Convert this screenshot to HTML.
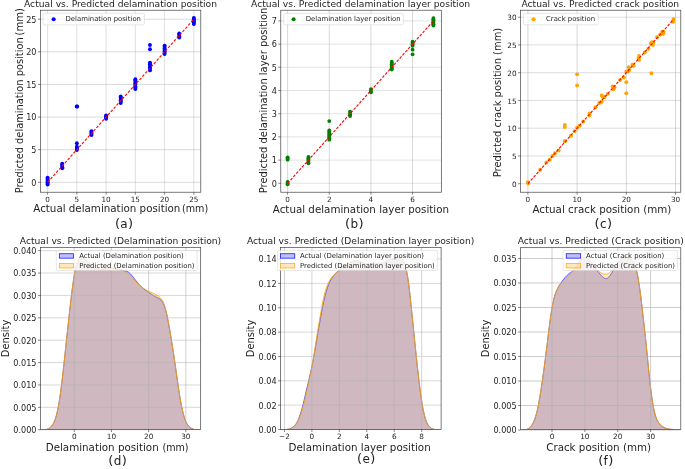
<!DOCTYPE html>
<html lang="en">
<head>
<meta charset="utf-8">
<title>Actual vs. Predicted</title>
<style>
html,body{margin:0;padding:0;background:#ffffff;}
body{width:685px;height:469px;overflow:hidden;}
svg{display:block;will-change:transform;}
text{font-family:"DejaVu Sans", "Liberation Sans", sans-serif;}
</style>
</head>
<body>
<svg width="685" height="469" viewBox="0 0 685 469" font-family='"DejaVu Sans", "Liberation Sans", sans-serif'>
<clipPath id="ca"><rect x="40.5" y="10.2" width="160.3" height="182"/></clipPath>
<rect x="40.5" y="10.2" width="160.3" height="182" fill="#ffffff"/>
<path d="M47.6 10.2V192.2M76.85 10.2V192.2M106.1 10.2V192.2M135.35 10.2V192.2M164.6 10.2V192.2M193.85 10.2V192.2" stroke="#b0b0b0" stroke-width="0.4" fill="none"/>
<path d="M40.5 182.3H200.8M40.5 149.68H200.8M40.5 117.06H200.8M40.5 84.44H200.8M40.5 51.82H200.8M40.5 19.2H200.8" stroke="#b0b0b0" stroke-width="0.48" fill="none"/>
<g fill="#0000ff" clip-path="url(#ca)">
<circle cx="47.6" cy="184.58" r="1.95"/>
<circle cx="47.6" cy="183.42" r="1.95"/>
<circle cx="47.6" cy="182.26" r="1.95"/>
<circle cx="47.6" cy="181.09" r="1.95"/>
<circle cx="47.6" cy="179.93" r="1.95"/>
<circle cx="47.6" cy="178.77" r="1.95"/>
<circle cx="47.6" cy="177.6" r="1.95"/>
<circle cx="62.23" cy="168.27" r="1.95"/>
<circle cx="62.23" cy="167.13" r="1.95"/>
<circle cx="62.23" cy="165.99" r="1.95"/>
<circle cx="62.23" cy="164.85" r="1.95"/>
<circle cx="62.23" cy="163.71" r="1.95"/>
<circle cx="76.85" cy="150.01" r="1.95"/>
<circle cx="76.85" cy="148.92" r="1.95"/>
<circle cx="76.85" cy="147.83" r="1.95"/>
<circle cx="76.85" cy="146.74" r="1.95"/>
<circle cx="76.85" cy="143.22" r="1.95"/>
<circle cx="76.67" cy="106.49" r="1.95"/>
<circle cx="77.2" cy="106.49" r="1.95"/>
<circle cx="91.47" cy="135" r="1.95"/>
<circle cx="91.47" cy="134.02" r="1.95"/>
<circle cx="91.47" cy="133.04" r="1.95"/>
<circle cx="91.47" cy="132.07" r="1.95"/>
<circle cx="91.47" cy="131.09" r="1.95"/>
<circle cx="106.1" cy="118.69" r="1.95"/>
<circle cx="106.1" cy="117.6" r="1.95"/>
<circle cx="106.1" cy="116.52" r="1.95"/>
<circle cx="106.1" cy="115.43" r="1.95"/>
<circle cx="120.72" cy="103.03" r="1.95"/>
<circle cx="120.72" cy="101.73" r="1.95"/>
<circle cx="120.72" cy="100.42" r="1.95"/>
<circle cx="120.72" cy="99.12" r="1.95"/>
<circle cx="120.72" cy="97.81" r="1.95"/>
<circle cx="120.72" cy="96.51" r="1.95"/>
<circle cx="135.35" cy="89.01" r="1.95"/>
<circle cx="135.35" cy="87.61" r="1.95"/>
<circle cx="135.35" cy="86.21" r="1.95"/>
<circle cx="135.35" cy="84.81" r="1.95"/>
<circle cx="135.35" cy="83.41" r="1.95"/>
<circle cx="135.35" cy="82.02" r="1.95"/>
<circle cx="135.35" cy="80.62" r="1.95"/>
<circle cx="135.35" cy="79.22" r="1.95"/>
<circle cx="149.97" cy="70.41" r="1.95"/>
<circle cx="149.97" cy="68.85" r="1.95"/>
<circle cx="149.97" cy="67.28" r="1.95"/>
<circle cx="149.97" cy="65.72" r="1.95"/>
<circle cx="149.97" cy="64.15" r="1.95"/>
<circle cx="149.97" cy="62.58" r="1.95"/>
<circle cx="149.97" cy="49.21" r="1.95"/>
<circle cx="149.97" cy="44.97" r="1.95"/>
<circle cx="164.6" cy="54.1" r="1.95"/>
<circle cx="164.6" cy="52.69" r="1.95"/>
<circle cx="164.6" cy="51.28" r="1.95"/>
<circle cx="164.6" cy="49.86" r="1.95"/>
<circle cx="164.6" cy="48.45" r="1.95"/>
<circle cx="164.6" cy="47.04" r="1.95"/>
<circle cx="164.6" cy="45.62" r="1.95"/>
<circle cx="179.22" cy="37.47" r="1.95"/>
<circle cx="179.22" cy="36.16" r="1.95"/>
<circle cx="179.22" cy="34.86" r="1.95"/>
<circle cx="179.22" cy="33.55" r="1.95"/>
<circle cx="193.85" cy="24.09" r="1.95"/>
<circle cx="193.85" cy="22.85" r="1.95"/>
<circle cx="193.85" cy="21.61" r="1.95"/>
<circle cx="193.85" cy="20.37" r="1.95"/>
<circle cx="193.85" cy="19.13" r="1.95"/>
<circle cx="193.85" cy="17.9" r="1.95"/>
</g>
<path d="M47.6 182.3L193.85 19.2" stroke="#ff0000" stroke-width="1.1" stroke-dasharray="2.8 1.5" fill="none"/>
<text x="47.6" y="201.89" font-size="7.25" text-anchor="middle" fill="#1e1e1e">0</text>
<text x="76.85" y="201.89" font-size="7.25" text-anchor="middle" fill="#1e1e1e">5</text>
<text x="106.1" y="201.89" font-size="7.25" text-anchor="middle" fill="#1e1e1e">10</text>
<text x="135.35" y="201.89" font-size="7.25" text-anchor="middle" fill="#1e1e1e">15</text>
<text x="164.6" y="201.89" font-size="7.25" text-anchor="middle" fill="#1e1e1e">20</text>
<text x="193.85" y="201.89" font-size="7.25" text-anchor="middle" fill="#1e1e1e">25</text>
<text x="36.5" y="185.66" font-size="8.1" text-anchor="end" fill="#1e1e1e">0</text>
<text x="36.5" y="153.04" font-size="8.1" text-anchor="end" fill="#1e1e1e">5</text>
<text x="36.5" y="120.42" font-size="8.1" text-anchor="end" fill="#1e1e1e">10</text>
<text x="36.5" y="87.8" font-size="8.1" text-anchor="end" fill="#1e1e1e">15</text>
<text x="36.5" y="55.18" font-size="8.1" text-anchor="end" fill="#1e1e1e">20</text>
<text x="36.5" y="22.56" font-size="8.1" text-anchor="end" fill="#1e1e1e">25</text>
<path d="M47.6 192.2v2.5M76.85 192.2v2.5M106.1 192.2v2.5M135.35 192.2v2.5M164.6 192.2v2.5M193.85 192.2v2.5M40.5 182.3h-2.5M40.5 149.68h-2.5M40.5 117.06h-2.5M40.5 84.44h-2.5M40.5 51.82h-2.5M40.5 19.2h-2.5" stroke="#333333" stroke-width="0.6" fill="none"/>
<rect x="40.5" y="10.2" width="160.3" height="182" fill="none" stroke="#333333" stroke-width="0.64"/>
<clipPath id="cb"><rect x="280.8" y="10.2" width="160.5" height="182"/></clipPath>
<rect x="280.8" y="10.2" width="160.5" height="182" fill="#ffffff"/>
<path d="M287.6 10.2V192.2M329.26 10.2V192.2M370.92 10.2V192.2M412.58 10.2V192.2" stroke="#b0b0b0" stroke-width="0.5" fill="none"/>
<path d="M280.8 183.3H441.3M280.8 160.1H441.3M280.8 136.9H441.3M280.8 113.7H441.3M280.8 90.5H441.3M280.8 67.3H441.3M280.8 44.1H441.3M280.8 20.9H441.3" stroke="#b0b0b0" stroke-width="0.36" fill="none"/>
<g fill="#008000" clip-path="url(#cb)">
<circle cx="287.6" cy="184.23" r="1.92"/>
<circle cx="287.6" cy="183.07" r="1.92"/>
<circle cx="287.6" cy="181.91" r="1.92"/>
<circle cx="287.6" cy="159.64" r="1.92"/>
<circle cx="287.6" cy="158.48" r="1.92"/>
<circle cx="287.6" cy="157.32" r="1.92"/>
<circle cx="308.43" cy="163.35" r="1.92"/>
<circle cx="308.43" cy="162.05" r="1.92"/>
<circle cx="308.43" cy="160.75" r="1.92"/>
<circle cx="308.43" cy="159.45" r="1.92"/>
<circle cx="308.43" cy="158.15" r="1.92"/>
<circle cx="308.43" cy="156.85" r="1.92"/>
<circle cx="329.26" cy="139.68" r="1.92"/>
<circle cx="329.26" cy="138.36" r="1.92"/>
<circle cx="329.26" cy="137.03" r="1.92"/>
<circle cx="329.26" cy="135.71" r="1.92"/>
<circle cx="329.26" cy="134.38" r="1.92"/>
<circle cx="329.26" cy="133.06" r="1.92"/>
<circle cx="329.26" cy="131.73" r="1.92"/>
<circle cx="329.26" cy="130.4" r="1.92"/>
<circle cx="329.26" cy="121.12" r="1.92"/>
<circle cx="350.09" cy="116.02" r="1.92"/>
<circle cx="350.09" cy="114.55" r="1.92"/>
<circle cx="350.09" cy="113.08" r="1.92"/>
<circle cx="350.09" cy="111.61" r="1.92"/>
<circle cx="370.92" cy="92.36" r="1.92"/>
<circle cx="370.92" cy="90.73" r="1.92"/>
<circle cx="370.92" cy="89.11" r="1.92"/>
<circle cx="391.75" cy="69.62" r="1.92"/>
<circle cx="391.75" cy="68.31" r="1.92"/>
<circle cx="391.75" cy="66.99" r="1.92"/>
<circle cx="391.75" cy="65.68" r="1.92"/>
<circle cx="391.75" cy="64.36" r="1.92"/>
<circle cx="391.75" cy="63.05" r="1.92"/>
<circle cx="391.75" cy="61.73" r="1.92"/>
<circle cx="412.58" cy="45.72" r="1.92"/>
<circle cx="412.58" cy="44.33" r="1.92"/>
<circle cx="412.58" cy="42.94" r="1.92"/>
<circle cx="412.58" cy="41.55" r="1.92"/>
<circle cx="412.58" cy="49.67" r="1.92"/>
<circle cx="412.58" cy="54.31" r="1.92"/>
<circle cx="433.41" cy="25.54" r="1.92"/>
<circle cx="433.41" cy="24.3" r="1.92"/>
<circle cx="433.41" cy="23.07" r="1.92"/>
<circle cx="433.41" cy="21.83" r="1.92"/>
<circle cx="433.41" cy="20.59" r="1.92"/>
<circle cx="433.41" cy="19.35" r="1.92"/>
<circle cx="433.41" cy="18.12" r="1.92"/>
</g>
<path d="M287.6 183.3L433.41 20.9" stroke="#ff0000" stroke-width="1.1" stroke-dasharray="2.8 1.5" fill="none"/>
<text x="287.6" y="201.89" font-size="7.25" text-anchor="middle" fill="#1e1e1e">0</text>
<text x="329.26" y="201.89" font-size="7.25" text-anchor="middle" fill="#1e1e1e">2</text>
<text x="370.92" y="201.89" font-size="7.25" text-anchor="middle" fill="#1e1e1e">4</text>
<text x="412.58" y="201.89" font-size="7.25" text-anchor="middle" fill="#1e1e1e">6</text>
<text x="276.8" y="186.66" font-size="8.1" text-anchor="end" fill="#1e1e1e">0</text>
<text x="276.8" y="163.46" font-size="8.1" text-anchor="end" fill="#1e1e1e">1</text>
<text x="276.8" y="140.26" font-size="8.1" text-anchor="end" fill="#1e1e1e">2</text>
<text x="276.8" y="117.06" font-size="8.1" text-anchor="end" fill="#1e1e1e">3</text>
<text x="276.8" y="93.86" font-size="8.1" text-anchor="end" fill="#1e1e1e">4</text>
<text x="276.8" y="70.66" font-size="8.1" text-anchor="end" fill="#1e1e1e">5</text>
<text x="276.8" y="47.46" font-size="8.1" text-anchor="end" fill="#1e1e1e">6</text>
<text x="276.8" y="24.26" font-size="8.1" text-anchor="end" fill="#1e1e1e">7</text>
<path d="M287.6 192.2v2.5M329.26 192.2v2.5M370.92 192.2v2.5M412.58 192.2v2.5M280.8 183.3h-2.5M280.8 160.1h-2.5M280.8 136.9h-2.5M280.8 113.7h-2.5M280.8 90.5h-2.5M280.8 67.3h-2.5M280.8 44.1h-2.5M280.8 20.9h-2.5" stroke="#333333" stroke-width="0.6" fill="none"/>
<rect x="280.8" y="10.2" width="160.5" height="182" fill="none" stroke="#333333" stroke-width="0.64"/>
<clipPath id="cc"><rect x="520.6" y="10.2" width="160.2" height="182"/></clipPath>
<rect x="520.6" y="10.2" width="160.2" height="182" fill="#ffffff"/>
<path d="M527.9 10.2V192.2M577.1 10.2V192.2M626.3 10.2V192.2M675.5 10.2V192.2" stroke="#b0b0b0" stroke-width="0.52" fill="none"/>
<path d="M520.6 183.7H680.8M520.6 155.95H680.8M520.6 128.2H680.8M520.6 100.45H680.8M520.6 72.7H680.8M520.6 44.95H680.8M520.6 17.2H680.8" stroke="#b0b0b0" stroke-width="0.44" fill="none"/>
<g fill="#ffa500" clip-path="url(#cc)">
<circle cx="527.9" cy="182.2" r="1.95"/>
<circle cx="528.39" cy="183.56" r="1.95"/>
<circle cx="540.2" cy="169.8" r="1.95"/>
<circle cx="546.35" cy="162.53" r="1.95"/>
<circle cx="549.79" cy="159.7" r="1.95"/>
<circle cx="552.5" cy="155.95" r="1.95"/>
<circle cx="554.96" cy="153.18" r="1.95"/>
<circle cx="558.65" cy="150.57" r="1.95"/>
<circle cx="564.8" cy="141.17" r="1.95"/>
<circle cx="565.05" cy="141.26" r="1.95"/>
<circle cx="570.95" cy="135.69" r="1.95"/>
<circle cx="574.64" cy="131.13" r="1.95"/>
<circle cx="577.1" cy="127.75" r="1.95"/>
<circle cx="579.56" cy="125.66" r="1.95"/>
<circle cx="583.25" cy="121.48" r="1.95"/>
<circle cx="589.4" cy="115.62" r="1.95"/>
<circle cx="589.65" cy="113.56" r="1.95"/>
<circle cx="595.55" cy="107.28" r="1.95"/>
<circle cx="599.24" cy="102.98" r="1.95"/>
<circle cx="601.7" cy="101.81" r="1.95"/>
<circle cx="603.18" cy="97.32" r="1.95"/>
<circle cx="604.65" cy="96.98" r="1.95"/>
<circle cx="607.85" cy="93.86" r="1.95"/>
<circle cx="612.52" cy="86.44" r="1.95"/>
<circle cx="614" cy="86.62" r="1.95"/>
<circle cx="614.49" cy="87.31" r="1.95"/>
<circle cx="620.15" cy="80" r="1.95"/>
<circle cx="623.84" cy="77.51" r="1.95"/>
<circle cx="626.3" cy="71.77" r="1.95"/>
<circle cx="627.78" cy="71.4" r="1.95"/>
<circle cx="629.25" cy="70.03" r="1.95"/>
<circle cx="632.45" cy="64.81" r="1.95"/>
<circle cx="633.68" cy="65.84" r="1.95"/>
<circle cx="638.6" cy="58.35" r="1.95"/>
<circle cx="639.09" cy="60.1" r="1.95"/>
<circle cx="644.75" cy="52.48" r="1.95"/>
<circle cx="648.44" cy="48.79" r="1.95"/>
<circle cx="650.9" cy="43.65" r="1.95"/>
<circle cx="651.88" cy="42.27" r="1.95"/>
<circle cx="653.36" cy="42.47" r="1.95"/>
<circle cx="657.05" cy="37.27" r="1.95"/>
<circle cx="660.25" cy="34.56" r="1.95"/>
<circle cx="662.22" cy="31.68" r="1.95"/>
<circle cx="663.2" cy="31.74" r="1.95"/>
<circle cx="663.69" cy="32.04" r="1.95"/>
<circle cx="673.04" cy="21.58" r="1.95"/>
<circle cx="673.53" cy="19.08" r="1.95"/>
<circle cx="564.8" cy="127.09" r="1.95"/>
<circle cx="564.8" cy="124.87" r="1.95"/>
<circle cx="577.1" cy="74.36" r="1.95"/>
<circle cx="577.1" cy="85.46" r="1.95"/>
<circle cx="626.3" cy="82.13" r="1.95"/>
<circle cx="626.3" cy="93.23" r="1.95"/>
<circle cx="651.39" cy="73.25" r="1.95"/>
<circle cx="601.7" cy="95.45" r="1.95"/>
<circle cx="613.51" cy="89.35" r="1.95"/>
<circle cx="628.76" cy="67.15" r="1.95"/>
<circle cx="652.87" cy="44.95" r="1.95"/>
<circle cx="663.2" cy="33.85" r="1.95"/>
<circle cx="673.04" cy="21.64" r="1.95"/>
<circle cx="639.09" cy="56.05" r="1.95"/>
</g>
<path d="M527.9 183.7L673.53 19.42" stroke="#ff0000" stroke-width="1.1" stroke-dasharray="2.8 1.5" fill="none"/>
<text x="527.9" y="201.89" font-size="7.25" text-anchor="middle" fill="#1e1e1e">0</text>
<text x="577.1" y="201.89" font-size="7.25" text-anchor="middle" fill="#1e1e1e">10</text>
<text x="626.3" y="201.89" font-size="7.25" text-anchor="middle" fill="#1e1e1e">20</text>
<text x="675.5" y="201.89" font-size="7.25" text-anchor="middle" fill="#1e1e1e">30</text>
<text x="516.6" y="186.76" font-size="7.3" text-anchor="end" fill="#1e1e1e">0</text>
<text x="516.6" y="159.01" font-size="7.3" text-anchor="end" fill="#1e1e1e">5</text>
<text x="516.6" y="131.26" font-size="7.3" text-anchor="end" fill="#1e1e1e">10</text>
<text x="516.6" y="103.51" font-size="7.3" text-anchor="end" fill="#1e1e1e">15</text>
<text x="516.6" y="75.76" font-size="7.3" text-anchor="end" fill="#1e1e1e">20</text>
<text x="516.6" y="48.01" font-size="7.3" text-anchor="end" fill="#1e1e1e">25</text>
<text x="516.6" y="20.26" font-size="7.3" text-anchor="end" fill="#1e1e1e">30</text>
<path d="M527.9 192.2v2.5M577.1 192.2v2.5M626.3 192.2v2.5M675.5 192.2v2.5M520.6 183.7h-2.5M520.6 155.95h-2.5M520.6 128.2h-2.5M520.6 100.45h-2.5M520.6 72.7h-2.5M520.6 44.95h-2.5M520.6 17.2h-2.5" stroke="#333333" stroke-width="0.6" fill="none"/>
<rect x="520.6" y="10.2" width="160.2" height="182" fill="none" stroke="#333333" stroke-width="0.64"/>
<clipPath id="cd"><rect x="40.5" y="247.5" width="160.2" height="182.1"/></clipPath>
<rect x="40.5" y="247.5" width="160.2" height="182.1" fill="#ffffff"/>
<g clip-path="url(#cd)">
<path d="M47.04 429.2L47.71 429.01L48.38 428.75L49.05 428.4L49.72 427.95L50.39 427.4L51.06 426.74L51.73 425.96L52.4 425.04L53.07 423.97L53.74 422.72L54.41 421.26L55.08 419.55L55.74 417.56L56.41 415.25L57.08 412.58L57.75 409.54L58.42 406.1L59.09 402.26L59.76 398.02L60.43 393.38L61.1 388.38L61.77 383.03L62.44 377.39L63.11 371.52L63.78 365.47L64.44 359.3L65.11 353.06L65.78 346.78L66.45 340.5L67.12 334.23L67.79 327.99L68.46 321.8L69.13 315.67L69.8 309.65L70.47 303.76L71.14 298.05L71.81 292.56L72.48 287.36L73.15 282.5L73.81 278.04L74.48 274.02L75.15 270.49L75.82 267.44L76.49 264.86L77.16 262.74L77.83 261.02L78.5 259.67L79.17 258.66L79.84 257.96L80.51 257.54L81.18 257.37L81.85 257.42L82.51 257.65L83.18 258.01L83.85 258.49L84.52 259.03L85.19 259.62L85.86 260.23L86.53 260.84L87.2 261.45L87.87 262.05L88.54 262.63L89.21 263.2L89.88 263.75L90.55 264.29L91.22 264.8L91.88 265.3L92.55 265.77L93.22 266.22L93.89 266.65L94.56 267.05L95.23 267.44L95.9 267.8L96.57 268.13L97.24 268.42L97.91 268.67L98.58 268.88L99.25 269.03L99.92 269.14L100.58 269.2L101.25 269.22L101.92 269.2L102.59 269.15L103.26 269.09L103.93 269.01L104.6 268.93L105.27 268.85L105.94 268.77L106.61 268.69L107.28 268.62L107.95 268.56L108.62 268.5L109.29 268.46L109.95 268.42L110.62 268.41L111.29 268.41L111.96 268.42L112.63 268.46L113.3 268.5L113.97 268.57L114.64 268.64L115.31 268.73L115.98 268.83L116.65 268.95L117.32 269.07L117.99 269.2L118.65 269.34L119.32 269.49L119.99 269.64L120.66 269.78L121.33 269.93L122 270.07L122.67 270.21L123.34 270.35L124.01 270.5L124.68 270.65L125.35 270.81L126.02 271.01L126.69 271.25L127.36 271.54L128.02 271.89L128.69 272.33L129.36 272.85L130.03 273.45L130.7 274.12L131.37 274.86L132.04 275.65L132.71 276.47L133.38 277.32L134.05 278.18L134.72 279.04L135.39 279.89L136.06 280.73L136.72 281.56L137.39 282.37L138.06 283.16L138.73 283.93L139.4 284.67L140.07 285.39L140.74 286.07L141.41 286.72L142.08 287.34L142.75 287.92L143.42 288.48L144.09 289.02L144.76 289.53L145.43 290.02L146.09 290.5L146.76 290.96L147.43 291.42L148.1 291.88L148.77 292.34L149.44 292.8L150.11 293.26L150.78 293.72L151.45 294.18L152.12 294.63L152.79 295.08L153.46 295.51L154.13 295.93L154.79 296.32L155.46 296.69L156.13 297.05L156.8 297.38L157.47 297.72L158.14 298.06L158.81 298.42L159.48 298.82L160.15 299.3L160.82 299.87L161.49 300.57L162.16 301.44L162.83 302.52L163.5 303.83L164.16 305.41L164.83 307.3L165.5 309.5L166.17 312.02L166.84 314.87L167.51 318L168.18 321.4L168.85 325.02L169.52 328.81L170.19 332.73L170.86 336.75L171.53 340.84L172.2 344.99L172.86 349.2L173.53 353.5L174.2 357.91L174.87 362.46L175.54 367.15L176.21 371.94L176.88 376.77L177.55 381.57L178.22 386.24L178.89 390.72L179.56 394.96L180.23 398.94L180.9 402.63L181.57 406.06L182.23 409.2L182.9 412.08L183.57 414.67L184.24 416.99L184.91 419.02L185.58 420.78L186.25 422.29L186.92 423.57L187.59 424.66L188.26 425.58L188.93 426.36L189.6 427.02L190.27 427.59L190.93 428.06L191.6 428.45L192.27 428.77L192.94 429.01L193.61 429.19L193.61 429.5L47.04 429.5Z" fill="#0000ff" fill-opacity="0.25" stroke="none"/>
<path d="M47.04 429.2L47.71 429.01L48.38 428.75L49.05 428.4L49.72 427.95L50.39 427.4L51.06 426.74L51.73 425.96L52.4 425.04L53.07 423.97L53.74 422.72L54.41 421.26L55.08 419.55L55.74 417.56L56.41 415.25L57.08 412.58L57.75 409.54L58.42 406.1L59.09 402.26L59.76 398.02L60.43 393.38L61.1 388.38L61.77 383.03L62.44 377.39L63.11 371.52L63.78 365.47L64.44 359.3L65.11 353.06L65.78 346.78L66.45 340.5L67.12 334.23L67.79 327.99L68.46 321.8L69.13 315.67L69.8 309.65L70.47 303.76L71.14 298.05L71.81 292.56L72.48 287.36L73.15 282.5L73.81 278.04L74.48 274.02L75.15 270.49L75.82 267.44L76.49 264.86L77.16 262.74L77.83 261.02L78.5 259.67L79.17 258.66L79.84 257.96L80.51 257.54L81.18 257.37L81.85 257.42L82.51 257.65L83.18 258.01L83.85 258.49L84.52 259.03L85.19 259.62L85.86 260.23L86.53 260.84L87.2 261.45L87.87 262.05L88.54 262.63L89.21 263.2L89.88 263.75L90.55 264.29L91.22 264.8L91.88 265.3L92.55 265.77L93.22 266.22L93.89 266.65L94.56 267.05L95.23 267.44L95.9 267.8L96.57 268.13L97.24 268.42L97.91 268.67L98.58 268.88L99.25 269.03L99.92 269.14L100.58 269.2L101.25 269.22L101.92 269.2L102.59 269.15L103.26 269.09L103.93 269.01L104.6 268.93L105.27 268.85L105.94 268.77L106.61 268.69L107.28 268.62L107.95 268.56L108.62 268.5L109.29 268.46L109.95 268.42L110.62 268.41L111.29 268.41L111.96 268.42L112.63 268.46L113.3 268.5L113.97 268.57L114.64 268.64L115.31 268.73L115.98 268.83L116.65 268.95L117.32 269.07L117.99 269.2L118.65 269.34L119.32 269.49L119.99 269.64L120.66 269.78L121.33 269.93L122 270.07L122.67 270.21L123.34 270.35L124.01 270.5L124.68 270.65L125.35 270.81L126.02 271.01L126.69 271.25L127.36 271.54L128.02 271.89L128.69 272.33L129.36 272.85L130.03 273.45L130.7 274.12L131.37 274.86L132.04 275.65L132.71 276.47L133.38 277.32L134.05 278.18L134.72 279.04L135.39 279.89L136.06 280.73L136.72 281.56L137.39 282.37L138.06 283.16L138.73 283.93L139.4 284.67L140.07 285.39L140.74 286.07L141.41 286.72L142.08 287.34L142.75 287.92L143.42 288.48L144.09 289.02L144.76 289.53L145.43 290.02L146.09 290.5L146.76 290.96L147.43 291.42L148.1 291.88L148.77 292.34L149.44 292.8L150.11 293.26L150.78 293.72L151.45 294.18L152.12 294.63L152.79 295.08L153.46 295.51L154.13 295.93L154.79 296.32L155.46 296.69L156.13 297.05L156.8 297.38L157.47 297.72L158.14 298.06L158.81 298.42L159.48 298.82L160.15 299.3L160.82 299.87L161.49 300.57L162.16 301.44L162.83 302.52L163.5 303.83L164.16 305.41L164.83 307.3L165.5 309.5L166.17 312.02L166.84 314.87L167.51 318L168.18 321.4L168.85 325.02L169.52 328.81L170.19 332.73L170.86 336.75L171.53 340.84L172.2 344.99L172.86 349.2L173.53 353.5L174.2 357.91L174.87 362.46L175.54 367.15L176.21 371.94L176.88 376.77L177.55 381.57L178.22 386.24L178.89 390.72L179.56 394.96L180.23 398.94L180.9 402.63L181.57 406.06L182.23 409.2L182.9 412.08L183.57 414.67L184.24 416.99L184.91 419.02L185.58 420.78L186.25 422.29L186.92 423.57L187.59 424.66L188.26 425.58L188.93 426.36L189.6 427.02L190.27 427.59L190.93 428.06L191.6 428.45L192.27 428.77L192.94 429.01L193.61 429.19" fill="none" stroke="#0000ff" stroke-width="0.6" stroke-linejoin="round"/>
<path d="M47.04 429.2L47.71 429.01L48.38 428.75L49.05 428.4L49.72 427.95L50.39 427.4L51.06 426.74L51.73 425.96L52.4 425.04L53.07 423.97L53.74 422.72L54.41 421.26L55.08 419.55L55.74 417.56L56.41 415.25L57.08 412.58L57.75 409.54L58.42 406.1L59.09 402.26L59.76 398.02L60.43 393.38L61.1 388.38L61.77 383.03L62.44 377.39L63.11 371.52L63.78 365.47L64.44 359.3L65.11 353.06L65.78 346.78L66.45 340.5L67.12 334.23L67.79 327.99L68.46 321.8L69.13 315.67L69.8 309.65L70.47 303.76L71.14 298.05L71.81 292.56L72.48 287.36L73.15 282.5L73.81 278.04L74.48 274.02L75.15 270.49L75.82 267.44L76.49 264.86L77.16 262.74L77.83 261.02L78.5 259.67L79.17 258.66L79.84 257.96L80.51 257.54L81.18 257.37L81.85 257.42L82.51 257.65L83.18 258.01L83.85 258.49L84.52 259.03L85.19 259.62L85.86 260.23L86.53 260.84L87.2 261.45L87.87 262.05L88.54 262.63L89.21 263.2L89.88 263.75L90.55 264.29L91.22 264.8L91.88 265.3L92.55 265.77L93.22 266.22L93.89 266.65L94.56 267.05L95.23 267.44L95.9 267.8L96.57 268.13L97.24 268.42L97.91 268.67L98.58 268.88L99.25 269.03L99.92 269.14L100.58 269.2L101.25 269.22L101.92 269.2L102.59 269.15L103.26 269.09L103.93 269.01L104.6 268.93L105.27 268.85L105.94 268.77L106.61 268.69L107.28 268.62L107.95 268.56L108.62 268.5L109.29 268.46L109.95 268.42L110.62 268.41L111.29 268.41L111.96 268.42L112.63 268.46L113.3 268.51L113.97 268.57L114.64 268.65L115.31 268.74L115.98 268.84L116.65 268.96L117.32 269.09L117.99 269.23L118.65 269.39L119.32 269.55L119.99 269.73L120.66 269.91L121.33 270.1L122 270.3L122.67 270.51L123.34 270.73L124.01 270.98L124.68 271.24L125.35 271.54L126.02 271.87L126.69 272.26L127.36 272.7L128.02 273.21L128.69 273.78L129.36 274.42L130.03 275.12L130.7 275.87L131.37 276.65L132.04 277.44L132.71 278.24L133.38 279.03L134.05 279.8L134.72 280.54L135.39 281.26L136.06 281.95L136.72 282.63L137.39 283.29L138.06 283.93L138.73 284.55L139.4 285.16L140.07 285.75L140.74 286.32L141.41 286.86L142.08 287.39L142.75 287.88L143.42 288.35L144.09 288.79L144.76 289.21L145.43 289.6L146.09 289.96L146.76 290.31L147.43 290.65L148.1 290.97L148.77 291.28L149.44 291.59L150.11 291.89L150.78 292.2L151.45 292.51L152.12 292.83L152.79 293.15L153.46 293.47L154.13 293.79L154.79 294.12L155.46 294.46L156.13 294.8L156.8 295.16L157.47 295.54L158.14 295.95L158.81 296.4L159.48 296.92L160.15 297.53L160.82 298.24L161.49 299.1L162.16 300.12L162.83 301.34L163.5 302.8L164.16 304.53L164.83 306.54L165.5 308.86L166.17 311.5L166.84 314.43L167.51 317.65L168.18 321.12L168.85 324.8L169.52 328.64L170.19 332.6L170.86 336.65L171.53 340.76L172.2 344.93L172.86 349.16L173.53 353.47L174.2 357.89L174.87 362.45L175.54 367.14L176.21 371.94L176.88 376.77L177.55 381.57L178.22 386.24L178.89 390.72L179.56 394.96L180.23 398.94L180.9 402.63L181.57 406.06L182.23 409.2L182.9 412.08L183.57 414.67L184.24 416.99L184.91 419.02L185.58 420.78L186.25 422.29L186.92 423.57L187.59 424.66L188.26 425.58L188.93 426.36L189.6 427.02L190.27 427.59L190.93 428.06L191.6 428.45L192.27 428.77L192.94 429.01L193.61 429.19L193.61 429.5L47.04 429.5Z" fill="#ffa500" fill-opacity="0.25" stroke="none"/>
<path d="M47.04 429.2L47.71 429.01L48.38 428.75L49.05 428.4L49.72 427.95L50.39 427.4L51.06 426.74L51.73 425.96L52.4 425.04L53.07 423.97L53.74 422.72L54.41 421.26L55.08 419.55L55.74 417.56L56.41 415.25L57.08 412.58L57.75 409.54L58.42 406.1L59.09 402.26L59.76 398.02L60.43 393.38L61.1 388.38L61.77 383.03L62.44 377.39L63.11 371.52L63.78 365.47L64.44 359.3L65.11 353.06L65.78 346.78L66.45 340.5L67.12 334.23L67.79 327.99L68.46 321.8L69.13 315.67L69.8 309.65L70.47 303.76L71.14 298.05L71.81 292.56L72.48 287.36L73.15 282.5L73.81 278.04L74.48 274.02L75.15 270.49L75.82 267.44L76.49 264.86L77.16 262.74L77.83 261.02L78.5 259.67L79.17 258.66L79.84 257.96L80.51 257.54L81.18 257.37L81.85 257.42L82.51 257.65L83.18 258.01L83.85 258.49L84.52 259.03L85.19 259.62L85.86 260.23L86.53 260.84L87.2 261.45L87.87 262.05L88.54 262.63L89.21 263.2L89.88 263.75L90.55 264.29L91.22 264.8L91.88 265.3L92.55 265.77L93.22 266.22L93.89 266.65L94.56 267.05L95.23 267.44L95.9 267.8L96.57 268.13L97.24 268.42L97.91 268.67L98.58 268.88L99.25 269.03L99.92 269.14L100.58 269.2L101.25 269.22L101.92 269.2L102.59 269.15L103.26 269.09L103.93 269.01L104.6 268.93L105.27 268.85L105.94 268.77L106.61 268.69L107.28 268.62L107.95 268.56L108.62 268.5L109.29 268.46L109.95 268.42L110.62 268.41L111.29 268.41L111.96 268.42L112.63 268.46L113.3 268.51L113.97 268.57L114.64 268.65L115.31 268.74L115.98 268.84L116.65 268.96L117.32 269.09L117.99 269.23L118.65 269.39L119.32 269.55L119.99 269.73L120.66 269.91L121.33 270.1L122 270.3L122.67 270.51L123.34 270.73L124.01 270.98L124.68 271.24L125.35 271.54L126.02 271.87L126.69 272.26L127.36 272.7L128.02 273.21L128.69 273.78L129.36 274.42L130.03 275.12L130.7 275.87L131.37 276.65L132.04 277.44L132.71 278.24L133.38 279.03L134.05 279.8L134.72 280.54L135.39 281.26L136.06 281.95L136.72 282.63L137.39 283.29L138.06 283.93L138.73 284.55L139.4 285.16L140.07 285.75L140.74 286.32L141.41 286.86L142.08 287.39L142.75 287.88L143.42 288.35L144.09 288.79L144.76 289.21L145.43 289.6L146.09 289.96L146.76 290.31L147.43 290.65L148.1 290.97L148.77 291.28L149.44 291.59L150.11 291.89L150.78 292.2L151.45 292.51L152.12 292.83L152.79 293.15L153.46 293.47L154.13 293.79L154.79 294.12L155.46 294.46L156.13 294.8L156.8 295.16L157.47 295.54L158.14 295.95L158.81 296.4L159.48 296.92L160.15 297.53L160.82 298.24L161.49 299.1L162.16 300.12L162.83 301.34L163.5 302.8L164.16 304.53L164.83 306.54L165.5 308.86L166.17 311.5L166.84 314.43L167.51 317.65L168.18 321.12L168.85 324.8L169.52 328.64L170.19 332.6L170.86 336.65L171.53 340.76L172.2 344.93L172.86 349.16L173.53 353.47L174.2 357.89L174.87 362.45L175.54 367.14L176.21 371.94L176.88 376.77L177.55 381.57L178.22 386.24L178.89 390.72L179.56 394.96L180.23 398.94L180.9 402.63L181.57 406.06L182.23 409.2L182.9 412.08L183.57 414.67L184.24 416.99L184.91 419.02L185.58 420.78L186.25 422.29L186.92 423.57L187.59 424.66L188.26 425.58L188.93 426.36L189.6 427.02L190.27 427.59L190.93 428.06L191.6 428.45L192.27 428.77L192.94 429.01L193.61 429.19" fill="none" stroke="#ffa500" stroke-width="0.85" stroke-linejoin="round"/>
</g>
<path d="M74.25 247.5V429.6M111.45 247.5V429.6M148.65 247.5V429.6M185.85 247.5V429.6" stroke="#b0b0b0" stroke-width="0.6" fill="none"/>
<path d="M40.5 429.7H200.7M40.5 407.32H200.7M40.5 384.94H200.7M40.5 362.56H200.7M40.5 340.18H200.7M40.5 317.8H200.7M40.5 295.42H200.7M40.5 273.04H200.7M40.5 250.66H200.7" stroke="#b0b0b0" stroke-width="0.5" fill="none"/>
<text x="74.25" y="439.33" font-size="7.3" text-anchor="middle" fill="#1e1e1e">0</text>
<text x="111.45" y="439.33" font-size="7.3" text-anchor="middle" fill="#1e1e1e">10</text>
<text x="148.65" y="439.33" font-size="7.3" text-anchor="middle" fill="#1e1e1e">20</text>
<text x="185.85" y="439.33" font-size="7.3" text-anchor="middle" fill="#1e1e1e">30</text>
<text x="36.5" y="433.06" font-size="8.1" text-anchor="end" fill="#1e1e1e">0.000</text>
<text x="36.5" y="410.68" font-size="8.1" text-anchor="end" fill="#1e1e1e">0.005</text>
<text x="36.5" y="388.3" font-size="8.1" text-anchor="end" fill="#1e1e1e">0.010</text>
<text x="36.5" y="365.92" font-size="8.1" text-anchor="end" fill="#1e1e1e">0.015</text>
<text x="36.5" y="343.54" font-size="8.1" text-anchor="end" fill="#1e1e1e">0.020</text>
<text x="36.5" y="321.16" font-size="8.1" text-anchor="end" fill="#1e1e1e">0.025</text>
<text x="36.5" y="298.78" font-size="8.1" text-anchor="end" fill="#1e1e1e">0.030</text>
<text x="36.5" y="276.4" font-size="8.1" text-anchor="end" fill="#1e1e1e">0.035</text>
<text x="36.5" y="254.02" font-size="8.1" text-anchor="end" fill="#1e1e1e">0.040</text>
<path d="M74.25 429.6v2.5M111.45 429.6v2.5M148.65 429.6v2.5M185.85 429.6v2.5M40.5 429.7h-2.5M40.5 407.32h-2.5M40.5 384.94h-2.5M40.5 362.56h-2.5M40.5 340.18h-2.5M40.5 317.8h-2.5M40.5 295.42h-2.5M40.5 273.04h-2.5M40.5 250.66h-2.5" stroke="#333333" stroke-width="0.6" fill="none"/>
<rect x="40.5" y="247.5" width="160.2" height="182.1" fill="none" stroke="#333333" stroke-width="0.64"/>
<clipPath id="ce"><rect x="280.6" y="247.6" width="160.5" height="181.8"/></clipPath>
<rect x="280.6" y="247.6" width="160.5" height="181.8" fill="#ffffff"/>
<g clip-path="url(#ce)">
<path d="M286.52 429.43L287.19 429.38L287.86 429.29L288.54 429.17L289.21 429L289.89 428.79L290.56 428.52L291.23 428.21L291.91 427.84L292.58 427.42L293.25 426.93L293.93 426.37L294.6 425.72L295.27 424.95L295.95 424.04L296.62 422.98L297.29 421.74L297.97 420.33L298.64 418.75L299.31 417L299.99 415.09L300.66 413.01L301.33 410.77L302.01 408.38L302.68 405.84L303.35 403.18L304.03 400.41L304.7 397.59L305.38 394.72L306.05 391.85L306.72 388.99L307.4 386.14L308.07 383.28L308.74 380.42L309.42 377.53L310.09 374.59L310.76 371.59L311.44 368.48L312.11 365.25L312.78 361.86L313.46 358.3L314.13 354.58L314.8 350.74L315.48 346.81L316.15 342.86L316.82 338.93L317.5 335.03L318.17 331.17L318.84 327.35L319.52 323.56L320.19 319.81L320.86 316.11L321.54 312.48L322.21 308.97L322.89 305.59L323.56 302.38L324.23 299.35L324.91 296.53L325.58 293.92L326.25 291.52L326.93 289.32L327.6 287.32L328.27 285.49L328.95 283.83L329.62 282.31L330.29 280.93L330.97 279.67L331.64 278.53L332.31 277.49L332.99 276.55L333.66 275.68L334.33 274.88L335.01 274.13L335.68 273.43L336.35 272.75L337.03 272.1L337.7 271.47L338.38 270.85L339.05 270.25L339.72 269.67L340.4 269.1L341.07 268.55L341.74 268.01L342.42 267.48L343.09 266.97L343.76 266.48L344.44 265.99L345.11 265.52L345.78 265.06L346.46 264.61L347.13 264.18L347.8 263.76L348.48 263.36L349.15 262.98L349.82 262.62L350.5 262.28L351.17 261.96L351.84 261.66L352.52 261.39L353.19 261.15L353.87 260.95L354.54 260.8L355.21 260.7L355.89 260.67L356.56 260.69L357.23 260.77L357.91 260.9L358.58 261.07L359.25 261.28L359.93 261.52L360.6 261.77L361.27 262.04L361.95 262.31L362.62 262.57L363.29 262.83L363.97 263.06L364.64 263.27L365.31 263.45L365.99 263.59L366.66 263.71L367.33 263.78L368.01 263.84L368.68 263.86L369.35 263.87L370.03 263.87L370.7 263.86L371.38 263.84L372.05 263.82L372.72 263.8L373.4 263.77L374.07 263.74L374.74 263.7L375.42 263.67L376.09 263.63L376.76 263.58L377.44 263.54L378.11 263.48L378.78 263.42L379.46 263.35L380.13 263.27L380.8 263.16L381.48 263.03L382.15 262.88L382.82 262.69L383.5 262.48L384.17 262.24L384.84 261.98L385.52 261.7L386.19 261.4L386.87 261.1L387.54 260.79L388.21 260.48L388.89 260.18L389.56 259.88L390.23 259.59L390.91 259.31L391.58 259.03L392.25 258.75L392.93 258.48L393.6 258.22L394.27 257.97L394.95 257.74L395.62 257.53L396.29 257.37L396.97 257.25L397.64 257.19L398.31 257.2L398.99 257.29L399.66 257.47L400.33 257.75L401.01 258.15L401.68 258.7L402.35 259.42L403.03 260.37L403.7 261.6L404.38 263.14L405.05 265.06L405.72 267.41L406.4 270.25L407.07 273.61L407.74 277.56L408.42 282.12L409.09 287.26L409.76 292.94L410.44 299.04L411.11 305.45L411.78 312.05L412.46 318.72L413.13 325.41L413.8 332.08L414.48 338.72L415.15 345.34L415.82 351.91L416.5 358.4L417.17 364.76L417.84 370.95L418.52 376.91L419.19 382.62L419.87 388.05L420.54 393.17L421.21 397.94L421.89 402.34L422.56 406.34L423.23 409.93L423.91 413.12L424.58 415.89L425.25 418.28L425.93 420.32L426.6 422.03L427.27 423.47L427.95 424.67L428.62 425.68L429.29 426.53L429.97 427.23L430.64 427.82L431.31 428.3L431.99 428.68L432.66 428.97L433.33 429.18L434.01 429.32L434.01 429.5L286.52 429.5Z" fill="#0000ff" fill-opacity="0.25" stroke="none"/>
<path d="M286.52 429.43L287.19 429.38L287.86 429.29L288.54 429.17L289.21 429L289.89 428.79L290.56 428.52L291.23 428.21L291.91 427.84L292.58 427.42L293.25 426.93L293.93 426.37L294.6 425.72L295.27 424.95L295.95 424.04L296.62 422.98L297.29 421.74L297.97 420.33L298.64 418.75L299.31 417L299.99 415.09L300.66 413.01L301.33 410.77L302.01 408.38L302.68 405.84L303.35 403.18L304.03 400.41L304.7 397.59L305.38 394.72L306.05 391.85L306.72 388.99L307.4 386.14L308.07 383.28L308.74 380.42L309.42 377.53L310.09 374.59L310.76 371.59L311.44 368.48L312.11 365.25L312.78 361.86L313.46 358.3L314.13 354.58L314.8 350.74L315.48 346.81L316.15 342.86L316.82 338.93L317.5 335.03L318.17 331.17L318.84 327.35L319.52 323.56L320.19 319.81L320.86 316.11L321.54 312.48L322.21 308.97L322.89 305.59L323.56 302.38L324.23 299.35L324.91 296.53L325.58 293.92L326.25 291.52L326.93 289.32L327.6 287.32L328.27 285.49L328.95 283.83L329.62 282.31L330.29 280.93L330.97 279.67L331.64 278.53L332.31 277.49L332.99 276.55L333.66 275.68L334.33 274.88L335.01 274.13L335.68 273.43L336.35 272.75L337.03 272.1L337.7 271.47L338.38 270.85L339.05 270.25L339.72 269.67L340.4 269.1L341.07 268.55L341.74 268.01L342.42 267.48L343.09 266.97L343.76 266.48L344.44 265.99L345.11 265.52L345.78 265.06L346.46 264.61L347.13 264.18L347.8 263.76L348.48 263.36L349.15 262.98L349.82 262.62L350.5 262.28L351.17 261.96L351.84 261.66L352.52 261.39L353.19 261.15L353.87 260.95L354.54 260.8L355.21 260.7L355.89 260.67L356.56 260.69L357.23 260.77L357.91 260.9L358.58 261.07L359.25 261.28L359.93 261.52L360.6 261.77L361.27 262.04L361.95 262.31L362.62 262.57L363.29 262.83L363.97 263.06L364.64 263.27L365.31 263.45L365.99 263.59L366.66 263.71L367.33 263.78L368.01 263.84L368.68 263.86L369.35 263.87L370.03 263.87L370.7 263.86L371.38 263.84L372.05 263.82L372.72 263.8L373.4 263.77L374.07 263.74L374.74 263.7L375.42 263.67L376.09 263.63L376.76 263.58L377.44 263.54L378.11 263.48L378.78 263.42L379.46 263.35L380.13 263.27L380.8 263.16L381.48 263.03L382.15 262.88L382.82 262.69L383.5 262.48L384.17 262.24L384.84 261.98L385.52 261.7L386.19 261.4L386.87 261.1L387.54 260.79L388.21 260.48L388.89 260.18L389.56 259.88L390.23 259.59L390.91 259.31L391.58 259.03L392.25 258.75L392.93 258.48L393.6 258.22L394.27 257.97L394.95 257.74L395.62 257.53L396.29 257.37L396.97 257.25L397.64 257.19L398.31 257.2L398.99 257.29L399.66 257.47L400.33 257.75L401.01 258.15L401.68 258.7L402.35 259.42L403.03 260.37L403.7 261.6L404.38 263.14L405.05 265.06L405.72 267.41L406.4 270.25L407.07 273.61L407.74 277.56L408.42 282.12L409.09 287.26L409.76 292.94L410.44 299.04L411.11 305.45L411.78 312.05L412.46 318.72L413.13 325.41L413.8 332.08L414.48 338.72L415.15 345.34L415.82 351.91L416.5 358.4L417.17 364.76L417.84 370.95L418.52 376.91L419.19 382.62L419.87 388.05L420.54 393.17L421.21 397.94L421.89 402.34L422.56 406.34L423.23 409.93L423.91 413.12L424.58 415.89L425.25 418.28L425.93 420.32L426.6 422.03L427.27 423.47L427.95 424.67L428.62 425.68L429.29 426.53L429.97 427.23L430.64 427.82L431.31 428.3L431.99 428.68L432.66 428.97L433.33 429.18L434.01 429.32" fill="none" stroke="#0000ff" stroke-width="0.6" stroke-linejoin="round"/>
<path d="M286.52 429.43L287.19 429.38L287.86 429.29L288.54 429.17L289.21 429L289.89 428.79L290.56 428.53L291.23 428.21L291.91 427.85L292.58 427.43L293.25 426.96L293.93 426.42L294.6 425.79L295.27 425.06L295.95 424.2L296.62 423.21L297.29 422.07L297.97 420.79L298.64 419.36L299.31 417.8L299.99 416.1L300.66 414.26L301.33 412.29L302.01 410.16L302.68 407.87L303.35 405.44L304.03 402.86L304.7 400.17L305.38 397.37L306.05 394.49L306.72 391.54L307.4 388.52L308.07 385.45L308.74 382.31L309.42 379.11L310.09 375.84L310.76 372.48L311.44 369.02L312.11 365.43L312.78 361.69L313.46 357.78L314.13 353.72L314.8 349.53L315.48 345.26L316.15 340.96L316.82 336.68L317.5 332.44L318.17 328.25L318.84 324.12L319.52 320.04L320.19 316.04L320.86 312.13L321.54 308.35L322.21 304.74L322.89 301.33L323.56 298.15L324.23 295.22L324.91 292.55L325.58 290.14L326.25 287.99L326.93 286.08L327.6 284.38L328.27 282.87L328.95 281.52L329.62 280.31L330.29 279.22L330.97 278.23L331.64 277.34L332.31 276.52L332.99 275.77L333.66 275.06L334.33 274.4L335.01 273.76L335.68 273.14L336.35 272.54L337.03 271.94L337.7 271.35L338.38 270.77L339.05 270.2L339.72 269.63L340.4 269.07L341.07 268.53L341.74 268L342.42 267.48L343.09 266.97L343.76 266.47L344.44 265.99L345.11 265.52L345.78 265.06L346.46 264.61L347.13 264.18L347.8 263.76L348.48 263.36L349.15 262.98L349.82 262.62L350.5 262.28L351.17 261.96L351.84 261.66L352.52 261.39L353.19 261.15L353.87 260.95L354.54 260.8L355.21 260.7L355.89 260.67L356.56 260.69L357.23 260.77L357.91 260.9L358.58 261.07L359.25 261.28L359.93 261.52L360.6 261.77L361.27 262.04L361.95 262.31L362.62 262.57L363.29 262.83L363.97 263.06L364.64 263.27L365.31 263.45L365.99 263.59L366.66 263.71L367.33 263.78L368.01 263.84L368.68 263.86L369.35 263.87L370.03 263.87L370.7 263.86L371.38 263.84L372.05 263.82L372.72 263.8L373.4 263.77L374.07 263.74L374.74 263.7L375.42 263.67L376.09 263.63L376.76 263.58L377.44 263.54L378.11 263.48L378.78 263.42L379.46 263.35L380.13 263.27L380.8 263.16L381.48 263.03L382.15 262.88L382.82 262.69L383.5 262.48L384.17 262.24L384.84 261.98L385.52 261.7L386.19 261.4L386.87 261.1L387.54 260.79L388.21 260.48L388.89 260.18L389.56 259.88L390.23 259.59L390.91 259.31L391.58 259.03L392.25 258.75L392.93 258.48L393.6 258.22L394.27 257.97L394.95 257.74L395.62 257.53L396.29 257.37L396.97 257.25L397.64 257.19L398.31 257.2L398.99 257.29L399.66 257.47L400.33 257.75L401.01 258.15L401.68 258.7L402.35 259.42L403.03 260.37L403.7 261.6L404.38 263.14L405.05 265.06L405.72 267.41L406.4 270.25L407.07 273.61L407.74 277.56L408.42 282.12L409.09 287.26L409.76 292.94L410.44 299.04L411.11 305.45L411.78 312.05L412.46 318.72L413.13 325.41L413.8 332.08L414.48 338.72L415.15 345.34L415.82 351.91L416.5 358.4L417.17 364.76L417.84 370.95L418.52 376.91L419.19 382.62L419.87 388.05L420.54 393.17L421.21 397.94L421.89 402.34L422.56 406.34L423.23 409.93L423.91 413.12L424.58 415.89L425.25 418.28L425.93 420.32L426.6 422.03L427.27 423.47L427.95 424.67L428.62 425.68L429.29 426.53L429.97 427.23L430.64 427.82L431.31 428.3L431.99 428.68L432.66 428.97L433.33 429.18L434.01 429.32L434.01 429.5L286.52 429.5Z" fill="#ffa500" fill-opacity="0.25" stroke="none"/>
<path d="M286.52 429.43L287.19 429.38L287.86 429.29L288.54 429.17L289.21 429L289.89 428.79L290.56 428.53L291.23 428.21L291.91 427.85L292.58 427.43L293.25 426.96L293.93 426.42L294.6 425.79L295.27 425.06L295.95 424.2L296.62 423.21L297.29 422.07L297.97 420.79L298.64 419.36L299.31 417.8L299.99 416.1L300.66 414.26L301.33 412.29L302.01 410.16L302.68 407.87L303.35 405.44L304.03 402.86L304.7 400.17L305.38 397.37L306.05 394.49L306.72 391.54L307.4 388.52L308.07 385.45L308.74 382.31L309.42 379.11L310.09 375.84L310.76 372.48L311.44 369.02L312.11 365.43L312.78 361.69L313.46 357.78L314.13 353.72L314.8 349.53L315.48 345.26L316.15 340.96L316.82 336.68L317.5 332.44L318.17 328.25L318.84 324.12L319.52 320.04L320.19 316.04L320.86 312.13L321.54 308.35L322.21 304.74L322.89 301.33L323.56 298.15L324.23 295.22L324.91 292.55L325.58 290.14L326.25 287.99L326.93 286.08L327.6 284.38L328.27 282.87L328.95 281.52L329.62 280.31L330.29 279.22L330.97 278.23L331.64 277.34L332.31 276.52L332.99 275.77L333.66 275.06L334.33 274.4L335.01 273.76L335.68 273.14L336.35 272.54L337.03 271.94L337.7 271.35L338.38 270.77L339.05 270.2L339.72 269.63L340.4 269.07L341.07 268.53L341.74 268L342.42 267.48L343.09 266.97L343.76 266.47L344.44 265.99L345.11 265.52L345.78 265.06L346.46 264.61L347.13 264.18L347.8 263.76L348.48 263.36L349.15 262.98L349.82 262.62L350.5 262.28L351.17 261.96L351.84 261.66L352.52 261.39L353.19 261.15L353.87 260.95L354.54 260.8L355.21 260.7L355.89 260.67L356.56 260.69L357.23 260.77L357.91 260.9L358.58 261.07L359.25 261.28L359.93 261.52L360.6 261.77L361.27 262.04L361.95 262.31L362.62 262.57L363.29 262.83L363.97 263.06L364.64 263.27L365.31 263.45L365.99 263.59L366.66 263.71L367.33 263.78L368.01 263.84L368.68 263.86L369.35 263.87L370.03 263.87L370.7 263.86L371.38 263.84L372.05 263.82L372.72 263.8L373.4 263.77L374.07 263.74L374.74 263.7L375.42 263.67L376.09 263.63L376.76 263.58L377.44 263.54L378.11 263.48L378.78 263.42L379.46 263.35L380.13 263.27L380.8 263.16L381.48 263.03L382.15 262.88L382.82 262.69L383.5 262.48L384.17 262.24L384.84 261.98L385.52 261.7L386.19 261.4L386.87 261.1L387.54 260.79L388.21 260.48L388.89 260.18L389.56 259.88L390.23 259.59L390.91 259.31L391.58 259.03L392.25 258.75L392.93 258.48L393.6 258.22L394.27 257.97L394.95 257.74L395.62 257.53L396.29 257.37L396.97 257.25L397.64 257.19L398.31 257.2L398.99 257.29L399.66 257.47L400.33 257.75L401.01 258.15L401.68 258.7L402.35 259.42L403.03 260.37L403.7 261.6L404.38 263.14L405.05 265.06L405.72 267.41L406.4 270.25L407.07 273.61L407.74 277.56L408.42 282.12L409.09 287.26L409.76 292.94L410.44 299.04L411.11 305.45L411.78 312.05L412.46 318.72L413.13 325.41L413.8 332.08L414.48 338.72L415.15 345.34L415.82 351.91L416.5 358.4L417.17 364.76L417.84 370.95L418.52 376.91L419.19 382.62L419.87 388.05L420.54 393.17L421.21 397.94L421.89 402.34L422.56 406.34L423.23 409.93L423.91 413.12L424.58 415.89L425.25 418.28L425.93 420.32L426.6 422.03L427.27 423.47L427.95 424.67L428.62 425.68L429.29 426.53L429.97 427.23L430.64 427.82L431.31 428.3L431.99 428.68L432.66 428.97L433.33 429.18L434.01 429.32" fill="none" stroke="#ffa500" stroke-width="0.85" stroke-linejoin="round"/>
</g>
<path d="M284.46 247.6V429.4M311.9 247.6V429.4M339.34 247.6V429.4M366.78 247.6V429.4M394.22 247.6V429.4M421.66 247.6V429.4" stroke="#b0b0b0" stroke-width="0.55" fill="none"/>
<path d="M280.6 429.5H441.1M280.6 405.15H441.1M280.6 380.8H441.1M280.6 356.45H441.1M280.6 332.1H441.1M280.6 307.75H441.1M280.6 283.4H441.1M280.6 259.05H441.1" stroke="#b0b0b0" stroke-width="0.5" fill="none"/>
<text x="284.46" y="439.13" font-size="7.3" text-anchor="middle" fill="#1e1e1e">−2</text>
<text x="311.9" y="439.13" font-size="7.3" text-anchor="middle" fill="#1e1e1e">0</text>
<text x="339.34" y="439.13" font-size="7.3" text-anchor="middle" fill="#1e1e1e">2</text>
<text x="366.78" y="439.13" font-size="7.3" text-anchor="middle" fill="#1e1e1e">4</text>
<text x="394.22" y="439.13" font-size="7.3" text-anchor="middle" fill="#1e1e1e">6</text>
<text x="421.66" y="439.13" font-size="7.3" text-anchor="middle" fill="#1e1e1e">8</text>
<text x="276.6" y="432.86" font-size="8.1" text-anchor="end" fill="#1e1e1e">0.00</text>
<text x="276.6" y="408.51" font-size="8.1" text-anchor="end" fill="#1e1e1e">0.02</text>
<text x="276.6" y="384.16" font-size="8.1" text-anchor="end" fill="#1e1e1e">0.04</text>
<text x="276.6" y="359.81" font-size="8.1" text-anchor="end" fill="#1e1e1e">0.06</text>
<text x="276.6" y="335.46" font-size="8.1" text-anchor="end" fill="#1e1e1e">0.08</text>
<text x="276.6" y="311.11" font-size="8.1" text-anchor="end" fill="#1e1e1e">0.10</text>
<text x="276.6" y="286.76" font-size="8.1" text-anchor="end" fill="#1e1e1e">0.12</text>
<text x="276.6" y="262.41" font-size="8.1" text-anchor="end" fill="#1e1e1e">0.14</text>
<path d="M284.46 429.4v2.5M311.9 429.4v2.5M339.34 429.4v2.5M366.78 429.4v2.5M394.22 429.4v2.5M421.66 429.4v2.5M280.6 429.5h-2.5M280.6 405.15h-2.5M280.6 380.8h-2.5M280.6 356.45h-2.5M280.6 332.1h-2.5M280.6 307.75h-2.5M280.6 283.4h-2.5M280.6 259.05h-2.5" stroke="#333333" stroke-width="0.6" fill="none"/>
<rect x="280.6" y="247.6" width="160.5" height="181.8" fill="none" stroke="#333333" stroke-width="0.64"/>
<clipPath id="cf"><rect x="520.6" y="247.7" width="160.2" height="181.8"/></clipPath>
<rect x="520.6" y="247.7" width="160.2" height="181.8" fill="#ffffff"/>
<g clip-path="url(#cf)">
<path d="M526.97 429.24L527.58 429.05L528.2 428.79L528.81 428.44L529.42 427.99L530.03 427.43L530.64 426.77L531.26 426.01L531.87 425.13L532.48 424.13L533.09 423L533.7 421.71L534.32 420.25L534.93 418.61L535.54 416.77L536.15 414.71L536.77 412.42L537.38 409.88L537.99 407.07L538.6 404L539.21 400.67L539.83 397.12L540.44 393.37L541.05 389.46L541.66 385.42L542.27 381.25L542.89 376.96L543.5 372.53L544.11 367.99L544.72 363.35L545.33 358.62L545.95 353.82L546.56 348.96L547.17 344.04L547.78 339.07L548.39 334.06L549.01 329.08L549.62 324.21L550.23 319.54L550.84 315.17L551.46 311.15L552.07 307.5L552.68 304.24L553.29 301.34L553.9 298.77L554.52 296.5L555.13 294.49L555.74 292.72L556.35 291.14L556.96 289.72L557.58 288.43L558.19 287.26L558.8 286.16L559.41 285.13L560.02 284.16L560.64 283.23L561.25 282.33L561.86 281.47L562.47 280.63L563.08 279.83L563.7 279.05L564.31 278.3L564.92 277.59L565.53 276.9L566.15 276.25L566.76 275.64L567.37 275.07L567.98 274.53L568.59 274.04L569.21 273.57L569.82 273.12L570.43 272.69L571.04 272.26L571.65 271.81L572.27 271.33L572.88 270.81L573.49 270.23L574.1 269.58L574.71 268.85L575.33 268.05L575.94 267.18L576.55 266.26L577.16 265.3L577.77 264.34L578.39 263.39L579 262.48L579.61 261.62L580.22 260.82L580.84 260.09L581.45 259.43L582.06 258.84L582.67 258.34L583.28 257.93L583.9 257.63L584.51 257.45L585.12 257.4L585.73 257.48L586.34 257.68L586.96 257.99L587.57 258.41L588.18 258.91L588.79 259.47L589.4 260.09L590.02 260.76L590.63 261.46L591.24 262.21L591.85 263L592.46 263.83L593.08 264.7L593.69 265.59L594.3 266.51L594.91 267.43L595.53 268.34L596.14 269.22L596.75 270.07L597.36 270.88L597.97 271.66L598.59 272.41L599.2 273.13L599.81 273.84L600.42 274.54L601.03 275.22L601.65 275.87L602.26 276.5L602.87 277.07L603.48 277.58L604.09 278.01L604.71 278.34L605.32 278.56L605.93 278.64L606.54 278.58L607.15 278.37L607.77 278.01L608.38 277.5L608.99 276.86L609.6 276.1L610.22 275.25L610.83 274.33L611.44 273.36L612.05 272.36L612.66 271.33L613.28 270.3L613.89 269.25L614.5 268.19L615.11 267.14L615.72 266.09L616.34 265.07L616.95 264.07L617.56 263.13L618.17 262.25L618.78 261.44L619.4 260.69L620.01 260.01L620.62 259.39L621.23 258.82L621.84 258.32L622.46 257.87L623.07 257.5L623.68 257.2L624.29 256.98L624.91 256.84L625.52 256.8L626.13 256.84L626.74 256.95L627.35 257.14L627.97 257.4L628.58 257.71L629.19 258.08L629.8 258.51L630.41 259L631.03 259.54L631.64 260.17L632.25 260.89L632.86 261.72L633.47 262.7L634.09 263.84L634.7 265.18L635.31 266.75L635.92 268.6L636.53 270.77L637.15 273.31L637.76 276.25L638.37 279.61L638.98 283.38L639.6 287.55L640.21 292.06L640.82 296.86L641.43 301.9L642.04 307.11L642.66 312.43L643.27 317.84L643.88 323.3L644.49 328.82L645.1 334.45L645.72 340.22L646.33 346.16L646.94 352.27L647.55 358.51L648.16 364.79L648.78 371L649.39 377L650 382.71L650.61 388.05L651.22 392.96L651.84 397.44L652.45 401.48L653.06 405.11L653.67 408.33L654.29 411.16L654.9 413.64L655.51 415.77L656.12 417.6L656.73 419.15L657.35 420.48L657.96 421.62L658.57 422.6L659.18 423.45L659.79 424.2L660.41 424.85L661.02 425.43L661.63 425.94L662.24 426.39L662.85 426.8L663.47 427.16L664.08 427.49L664.69 427.79L665.3 428.05L665.91 428.28L666.53 428.49L667.14 428.66L667.75 428.82L668.36 428.95L668.98 429.07L669.59 429.17L670.2 429.26L670.81 429.33L671.42 429.38L672.04 429.42L672.65 429.45L673.26 429.47L673.26 429.5L526.97 429.5Z" fill="#0000ff" fill-opacity="0.25" stroke="none"/>
<path d="M526.97 429.24L527.58 429.05L528.2 428.79L528.81 428.44L529.42 427.99L530.03 427.43L530.64 426.77L531.26 426.01L531.87 425.13L532.48 424.13L533.09 423L533.7 421.71L534.32 420.25L534.93 418.61L535.54 416.77L536.15 414.71L536.77 412.42L537.38 409.88L537.99 407.07L538.6 404L539.21 400.67L539.83 397.12L540.44 393.37L541.05 389.46L541.66 385.42L542.27 381.25L542.89 376.96L543.5 372.53L544.11 367.99L544.72 363.35L545.33 358.62L545.95 353.82L546.56 348.96L547.17 344.04L547.78 339.07L548.39 334.06L549.01 329.08L549.62 324.21L550.23 319.54L550.84 315.17L551.46 311.15L552.07 307.5L552.68 304.24L553.29 301.34L553.9 298.77L554.52 296.5L555.13 294.49L555.74 292.72L556.35 291.14L556.96 289.72L557.58 288.43L558.19 287.26L558.8 286.16L559.41 285.13L560.02 284.16L560.64 283.23L561.25 282.33L561.86 281.47L562.47 280.63L563.08 279.83L563.7 279.05L564.31 278.3L564.92 277.59L565.53 276.9L566.15 276.25L566.76 275.64L567.37 275.07L567.98 274.53L568.59 274.04L569.21 273.57L569.82 273.12L570.43 272.69L571.04 272.26L571.65 271.81L572.27 271.33L572.88 270.81L573.49 270.23L574.1 269.58L574.71 268.85L575.33 268.05L575.94 267.18L576.55 266.26L577.16 265.3L577.77 264.34L578.39 263.39L579 262.48L579.61 261.62L580.22 260.82L580.84 260.09L581.45 259.43L582.06 258.84L582.67 258.34L583.28 257.93L583.9 257.63L584.51 257.45L585.12 257.4L585.73 257.48L586.34 257.68L586.96 257.99L587.57 258.41L588.18 258.91L588.79 259.47L589.4 260.09L590.02 260.76L590.63 261.46L591.24 262.21L591.85 263L592.46 263.83L593.08 264.7L593.69 265.59L594.3 266.51L594.91 267.43L595.53 268.34L596.14 269.22L596.75 270.07L597.36 270.88L597.97 271.66L598.59 272.41L599.2 273.13L599.81 273.84L600.42 274.54L601.03 275.22L601.65 275.87L602.26 276.5L602.87 277.07L603.48 277.58L604.09 278.01L604.71 278.34L605.32 278.56L605.93 278.64L606.54 278.58L607.15 278.37L607.77 278.01L608.38 277.5L608.99 276.86L609.6 276.1L610.22 275.25L610.83 274.33L611.44 273.36L612.05 272.36L612.66 271.33L613.28 270.3L613.89 269.25L614.5 268.19L615.11 267.14L615.72 266.09L616.34 265.07L616.95 264.07L617.56 263.13L618.17 262.25L618.78 261.44L619.4 260.69L620.01 260.01L620.62 259.39L621.23 258.82L621.84 258.32L622.46 257.87L623.07 257.5L623.68 257.2L624.29 256.98L624.91 256.84L625.52 256.8L626.13 256.84L626.74 256.95L627.35 257.14L627.97 257.4L628.58 257.71L629.19 258.08L629.8 258.51L630.41 259L631.03 259.54L631.64 260.17L632.25 260.89L632.86 261.72L633.47 262.7L634.09 263.84L634.7 265.18L635.31 266.75L635.92 268.6L636.53 270.77L637.15 273.31L637.76 276.25L638.37 279.61L638.98 283.38L639.6 287.55L640.21 292.06L640.82 296.86L641.43 301.9L642.04 307.11L642.66 312.43L643.27 317.84L643.88 323.3L644.49 328.82L645.1 334.45L645.72 340.22L646.33 346.16L646.94 352.27L647.55 358.51L648.16 364.79L648.78 371L649.39 377L650 382.71L650.61 388.05L651.22 392.96L651.84 397.44L652.45 401.48L653.06 405.11L653.67 408.33L654.29 411.16L654.9 413.64L655.51 415.77L656.12 417.6L656.73 419.15L657.35 420.48L657.96 421.62L658.57 422.6L659.18 423.45L659.79 424.2L660.41 424.85L661.02 425.43L661.63 425.94L662.24 426.39L662.85 426.8L663.47 427.16L664.08 427.49L664.69 427.79L665.3 428.05L665.91 428.28L666.53 428.49L667.14 428.66L667.75 428.82L668.36 428.95L668.98 429.07L669.59 429.17L670.2 429.26L670.81 429.33L671.42 429.38L672.04 429.42L672.65 429.45L673.26 429.47" fill="none" stroke="#0000ff" stroke-width="0.6" stroke-linejoin="round"/>
<path d="M526.97 429.24L527.58 429.05L528.2 428.79L528.81 428.44L529.42 427.99L530.03 427.43L530.64 426.77L531.26 426.01L531.87 425.13L532.48 424.13L533.09 423L533.7 421.71L534.32 420.25L534.93 418.61L535.54 416.77L536.15 414.71L536.77 412.42L537.38 409.88L537.99 407.07L538.6 404L539.21 400.67L539.83 397.12L540.44 393.37L541.05 389.46L541.66 385.42L542.27 381.25L542.89 376.96L543.5 372.53L544.11 367.99L544.72 363.35L545.33 358.62L545.95 353.82L546.56 348.96L547.17 344.04L547.78 339.07L548.39 334.06L549.01 329.08L549.62 324.21L550.23 319.54L550.84 315.17L551.46 311.15L552.07 307.51L552.68 304.24L553.29 301.35L553.9 298.78L554.52 296.52L555.13 294.53L555.74 292.77L556.35 291.21L556.96 289.83L557.58 288.58L558.19 287.46L558.8 286.43L559.41 285.49L560.02 284.61L560.64 283.79L561.25 283.02L561.86 282.3L562.47 281.61L563.08 280.95L563.7 280.32L564.31 279.71L564.92 279.11L565.53 278.52L566.15 277.93L566.76 277.35L567.37 276.77L567.98 276.2L568.59 275.63L569.21 275.06L569.82 274.5L570.43 273.93L571.04 273.35L571.65 272.75L572.27 272.13L572.88 271.47L573.49 270.76L574.1 270L574.71 269.18L575.33 268.31L575.94 267.37L576.55 266.4L577.16 265.4L577.77 264.41L578.39 263.44L579 262.51L579.61 261.64L580.22 260.83L580.84 260.1L581.45 259.43L582.06 258.84L582.67 258.34L583.28 257.93L583.9 257.63L584.51 257.45L585.12 257.4L585.73 257.48L586.34 257.68L586.96 257.99L587.57 258.41L588.18 258.9L588.79 259.47L589.4 260.08L590.02 260.74L590.63 261.44L591.24 262.17L591.85 262.94L592.46 263.75L593.08 264.58L593.69 265.43L594.3 266.29L594.91 267.13L595.53 267.95L596.14 268.71L596.75 269.41L597.36 270.05L597.97 270.63L598.59 271.14L599.2 271.6L599.81 272.02L600.42 272.41L601.03 272.76L601.65 273.08L602.26 273.38L602.87 273.64L603.48 273.86L604.09 274.05L604.71 274.18L605.32 274.25L605.93 274.25L606.54 274.18L607.15 274.03L607.77 273.79L608.38 273.46L608.99 273.05L609.6 272.57L610.22 272.02L610.83 271.42L611.44 270.78L612.05 270.11L612.66 269.4L613.28 268.66L613.89 267.89L614.5 267.08L615.11 266.24L615.72 265.37L616.34 264.5L616.95 263.64L617.56 262.81L618.17 262.01L618.78 261.26L619.4 260.56L620.01 259.92L620.62 259.32L621.23 258.78L621.84 258.29L622.46 257.85L623.07 257.48L623.68 257.19L624.29 256.97L624.91 256.84L625.52 256.8L626.13 256.83L626.74 256.95L627.35 257.14L627.97 257.4L628.58 257.71L629.19 258.08L629.8 258.51L630.41 259L631.03 259.54L631.64 260.17L632.25 260.89L632.86 261.72L633.47 262.7L634.09 263.84L634.7 265.18L635.31 266.75L635.92 268.6L636.53 270.77L637.15 273.31L637.76 276.25L638.37 279.61L638.98 283.38L639.6 287.55L640.21 292.06L640.82 296.86L641.43 301.9L642.04 307.11L642.66 312.43L643.27 317.84L643.88 323.3L644.49 328.82L645.1 334.45L645.72 340.22L646.33 346.16L646.94 352.27L647.55 358.51L648.16 364.79L648.78 371L649.39 377L650 382.71L650.61 388.05L651.22 392.96L651.84 397.44L652.45 401.48L653.06 405.11L653.67 408.33L654.29 411.16L654.9 413.64L655.51 415.77L656.12 417.6L656.73 419.15L657.35 420.48L657.96 421.62L658.57 422.6L659.18 423.45L659.79 424.2L660.41 424.85L661.02 425.43L661.63 425.94L662.24 426.39L662.85 426.8L663.47 427.16L664.08 427.49L664.69 427.79L665.3 428.05L665.91 428.28L666.53 428.49L667.14 428.66L667.75 428.82L668.36 428.95L668.98 429.07L669.59 429.17L670.2 429.26L670.81 429.33L671.42 429.38L672.04 429.42L672.65 429.45L673.26 429.47L673.26 429.5L526.97 429.5Z" fill="#ffa500" fill-opacity="0.25" stroke="none"/>
<path d="M526.97 429.24L527.58 429.05L528.2 428.79L528.81 428.44L529.42 427.99L530.03 427.43L530.64 426.77L531.26 426.01L531.87 425.13L532.48 424.13L533.09 423L533.7 421.71L534.32 420.25L534.93 418.61L535.54 416.77L536.15 414.71L536.77 412.42L537.38 409.88L537.99 407.07L538.6 404L539.21 400.67L539.83 397.12L540.44 393.37L541.05 389.46L541.66 385.42L542.27 381.25L542.89 376.96L543.5 372.53L544.11 367.99L544.72 363.35L545.33 358.62L545.95 353.82L546.56 348.96L547.17 344.04L547.78 339.07L548.39 334.06L549.01 329.08L549.62 324.21L550.23 319.54L550.84 315.17L551.46 311.15L552.07 307.51L552.68 304.24L553.29 301.35L553.9 298.78L554.52 296.52L555.13 294.53L555.74 292.77L556.35 291.21L556.96 289.83L557.58 288.58L558.19 287.46L558.8 286.43L559.41 285.49L560.02 284.61L560.64 283.79L561.25 283.02L561.86 282.3L562.47 281.61L563.08 280.95L563.7 280.32L564.31 279.71L564.92 279.11L565.53 278.52L566.15 277.93L566.76 277.35L567.37 276.77L567.98 276.2L568.59 275.63L569.21 275.06L569.82 274.5L570.43 273.93L571.04 273.35L571.65 272.75L572.27 272.13L572.88 271.47L573.49 270.76L574.1 270L574.71 269.18L575.33 268.31L575.94 267.37L576.55 266.4L577.16 265.4L577.77 264.41L578.39 263.44L579 262.51L579.61 261.64L580.22 260.83L580.84 260.1L581.45 259.43L582.06 258.84L582.67 258.34L583.28 257.93L583.9 257.63L584.51 257.45L585.12 257.4L585.73 257.48L586.34 257.68L586.96 257.99L587.57 258.41L588.18 258.9L588.79 259.47L589.4 260.08L590.02 260.74L590.63 261.44L591.24 262.17L591.85 262.94L592.46 263.75L593.08 264.58L593.69 265.43L594.3 266.29L594.91 267.13L595.53 267.95L596.14 268.71L596.75 269.41L597.36 270.05L597.97 270.63L598.59 271.14L599.2 271.6L599.81 272.02L600.42 272.41L601.03 272.76L601.65 273.08L602.26 273.38L602.87 273.64L603.48 273.86L604.09 274.05L604.71 274.18L605.32 274.25L605.93 274.25L606.54 274.18L607.15 274.03L607.77 273.79L608.38 273.46L608.99 273.05L609.6 272.57L610.22 272.02L610.83 271.42L611.44 270.78L612.05 270.11L612.66 269.4L613.28 268.66L613.89 267.89L614.5 267.08L615.11 266.24L615.72 265.37L616.34 264.5L616.95 263.64L617.56 262.81L618.17 262.01L618.78 261.26L619.4 260.56L620.01 259.92L620.62 259.32L621.23 258.78L621.84 258.29L622.46 257.85L623.07 257.48L623.68 257.19L624.29 256.97L624.91 256.84L625.52 256.8L626.13 256.83L626.74 256.95L627.35 257.14L627.97 257.4L628.58 257.71L629.19 258.08L629.8 258.51L630.41 259L631.03 259.54L631.64 260.17L632.25 260.89L632.86 261.72L633.47 262.7L634.09 263.84L634.7 265.18L635.31 266.75L635.92 268.6L636.53 270.77L637.15 273.31L637.76 276.25L638.37 279.61L638.98 283.38L639.6 287.55L640.21 292.06L640.82 296.86L641.43 301.9L642.04 307.11L642.66 312.43L643.27 317.84L643.88 323.3L644.49 328.82L645.1 334.45L645.72 340.22L646.33 346.16L646.94 352.27L647.55 358.51L648.16 364.79L648.78 371L649.39 377L650 382.71L650.61 388.05L651.22 392.96L651.84 397.44L652.45 401.48L653.06 405.11L653.67 408.33L654.29 411.16L654.9 413.64L655.51 415.77L656.12 417.6L656.73 419.15L657.35 420.48L657.96 421.62L658.57 422.6L659.18 423.45L659.79 424.2L660.41 424.85L661.02 425.43L661.63 425.94L662.24 426.39L662.85 426.8L663.47 427.16L664.08 427.49L664.69 427.79L665.3 428.05L665.91 428.28L666.53 428.49L667.14 428.66L667.75 428.82L668.36 428.95L668.98 429.07L669.59 429.17L670.2 429.26L670.81 429.33L671.42 429.38L672.04 429.42L672.65 429.45L673.26 429.47" fill="none" stroke="#ffa500" stroke-width="0.85" stroke-linejoin="round"/>
</g>
<path d="M552 247.7V429.5M584.87 247.7V429.5M617.74 247.7V429.5M650.61 247.7V429.5" stroke="#b0b0b0" stroke-width="0.62" fill="none"/>
<path d="M520.6 430H680.8M520.6 405.5H680.8M520.6 381H680.8M520.6 356.5H680.8M520.6 332H680.8M520.6 307.5H680.8M520.6 283H680.8M520.6 258.5H680.8" stroke="#b0b0b0" stroke-width="0.66" fill="none"/>
<text x="552" y="439.23" font-size="7.3" text-anchor="middle" fill="#1e1e1e">0</text>
<text x="584.87" y="439.23" font-size="7.3" text-anchor="middle" fill="#1e1e1e">10</text>
<text x="617.74" y="439.23" font-size="7.3" text-anchor="middle" fill="#1e1e1e">20</text>
<text x="650.61" y="439.23" font-size="7.3" text-anchor="middle" fill="#1e1e1e">30</text>
<text x="516.6" y="433.36" font-size="8.1" text-anchor="end" fill="#1e1e1e">0.000</text>
<text x="516.6" y="408.86" font-size="8.1" text-anchor="end" fill="#1e1e1e">0.005</text>
<text x="516.6" y="384.36" font-size="8.1" text-anchor="end" fill="#1e1e1e">0.010</text>
<text x="516.6" y="359.86" font-size="8.1" text-anchor="end" fill="#1e1e1e">0.015</text>
<text x="516.6" y="335.36" font-size="8.1" text-anchor="end" fill="#1e1e1e">0.020</text>
<text x="516.6" y="310.86" font-size="8.1" text-anchor="end" fill="#1e1e1e">0.025</text>
<text x="516.6" y="286.36" font-size="8.1" text-anchor="end" fill="#1e1e1e">0.030</text>
<text x="516.6" y="261.86" font-size="8.1" text-anchor="end" fill="#1e1e1e">0.035</text>
<path d="M552 429.5v2.5M584.87 429.5v2.5M617.74 429.5v2.5M650.61 429.5v2.5M520.6 430h-2.5M520.6 405.5h-2.5M520.6 381h-2.5M520.6 356.5h-2.5M520.6 332h-2.5M520.6 307.5h-2.5M520.6 283h-2.5M520.6 258.5h-2.5" stroke="#333333" stroke-width="0.6" fill="none"/>
<rect x="520.6" y="247.7" width="160.2" height="181.8" fill="none" stroke="#333333" stroke-width="0.64"/>
<rect x="43.2" y="13.3" width="101.2" height="11.6" rx="1.4" fill="#ffffff" fill-opacity="0.8" stroke="#cccccc" stroke-opacity="0.8" stroke-width="0.6"/>
<circle cx="53.65" cy="19.2" r="2.05" fill="#0000ff"/>
<text x="65.54" y="20.7" font-size="6.88" text-anchor="start" fill="#1e1e1e">Delamination position</text>
<rect x="283.7" y="13.5" width="119.6" height="11.3" rx="1.4" fill="#ffffff" fill-opacity="0.8" stroke="#cccccc" stroke-opacity="0.8" stroke-width="0.6"/>
<circle cx="293.6" cy="19.3" r="2.05" fill="#008000"/>
<text x="305.84" y="20.9" font-size="6.88" text-anchor="start" fill="#1e1e1e">Delamination layer position</text>
<rect x="523.5" y="13.5" width="74.7" height="11.3" rx="1.4" fill="#ffffff" fill-opacity="0.8" stroke="#cccccc" stroke-opacity="0.8" stroke-width="0.6"/>
<circle cx="533.5" cy="19.2" r="2.05" fill="#ffa500"/>
<text x="546.02" y="20.8" font-size="6.88" text-anchor="start" fill="#1e1e1e">Crack position</text>
<rect x="56.3" y="250.4" width="140.8" height="20.1" rx="1.4" fill="#ffffff" fill-opacity="0.8" stroke="#cccccc" stroke-opacity="0.8" stroke-width="0.6"/>
<rect x="59.3" y="253.75" width="14.2" height="4.4" fill="#0000ff" fill-opacity="0.25" stroke="#0000ff" stroke-width="0.7"/>
<text x="79.2" y="257.95" font-size="6.88" text-anchor="start" fill="#1e1e1e">Actual (Delamination position)</text>
<rect x="59.3" y="263.6" width="14.2" height="4.4" fill="#ffa500" fill-opacity="0.25" stroke="#ffa500" stroke-width="0.7"/>
<text x="79.2" y="267.6" font-size="6.88" text-anchor="start" fill="#1e1e1e">Predicted (Delamination position)</text>
<rect x="277.6" y="250.4" width="159.8" height="20.1" rx="1.4" fill="#ffffff" fill-opacity="0.8" stroke="#cccccc" stroke-opacity="0.8" stroke-width="0.6"/>
<rect x="280.4" y="253.75" width="14.4" height="4.4" fill="#0000ff" fill-opacity="0.25" stroke="#0000ff" stroke-width="0.7"/>
<text x="300" y="257.95" font-size="6.88" text-anchor="start" fill="#1e1e1e">Actual (Delamination layer position)</text>
<rect x="280.4" y="263.6" width="14.4" height="4.4" fill="#ffa500" fill-opacity="0.25" stroke="#ffa500" stroke-width="0.7"/>
<text x="300" y="267.6" font-size="6.88" text-anchor="start" fill="#1e1e1e">Predicted (Delamination layer position)</text>
<rect x="563" y="250.4" width="114.4" height="20.1" rx="1.4" fill="#ffffff" fill-opacity="0.8" stroke="#cccccc" stroke-opacity="0.8" stroke-width="0.6"/>
<rect x="566.2" y="253.75" width="14.5" height="4.4" fill="#0000ff" fill-opacity="0.25" stroke="#0000ff" stroke-width="0.7"/>
<text x="586.1" y="257.95" font-size="6.88" text-anchor="start" fill="#1e1e1e">Actual (Crack position)</text>
<rect x="566.2" y="263.6" width="14.5" height="4.4" fill="#ffa500" fill-opacity="0.25" stroke="#ffa500" stroke-width="0.7"/>
<text x="586.1" y="267.6" font-size="6.88" text-anchor="start" fill="#1e1e1e">Predicted (Crack position)</text>
<text x="120.5" y="6.7" font-size="9.18" text-anchor="middle" fill="#1e1e1e">Actual vs. Predicted delamination position</text>
<text x="360.6" y="6.7" font-size="9.18" text-anchor="middle" fill="#1e1e1e">Actual vs. Predicted delamination layer position</text>
<text x="600.3" y="6.6" font-size="9.18" text-anchor="middle" fill="#1e1e1e">Actual vs. Predicted crack position</text>
<text x="120.5" y="243.8" font-size="9.18" text-anchor="middle" fill="#1e1e1e">Actual vs. Predicted (Delamination position)</text>
<text x="360.65" y="243.8" font-size="9.18" text-anchor="middle" fill="#1e1e1e">Actual vs. Predicted (Delamination layer position)</text>
<text x="600.75" y="243.8" font-size="9.18" text-anchor="middle" fill="#1e1e1e">Actual vs. Predicted (Crack position)</text>
<text x="33.3" y="211.8" font-size="10.3" text-anchor="start" fill="#1e1e1e">Actual delamination position</text>
<text x="182" y="211.6" font-size="9.6" text-anchor="start" fill="#1e1e1e">(mm)</text>
<text x="272.85" y="213.2" font-size="10.3" text-anchor="start" fill="#1e1e1e">Actual delamination layer position</text>
<text x="532.5" y="213.2" font-size="10.3" text-anchor="start" fill="#1e1e1e">Actual crack position (mm)</text>
<text x="45.72" y="450.65" font-size="10.3" text-anchor="start" fill="#1e1e1e">Delamination position</text>
<text x="162.4" y="450.5" font-size="9.6" text-anchor="start" fill="#1e1e1e">(mm)</text>
<text x="288.62" y="450.65" font-size="10.3" text-anchor="start" fill="#1e1e1e">Delamination layer position</text>
<text x="546.23" y="450.65" font-size="10.3" text-anchor="start" fill="#1e1e1e">Crack position (mm)</text>
<text x="23" y="193.25" font-size="9.85" text-anchor="start" fill="#1e1e1e" transform="rotate(-90 23 193.25)">Predicted delamination position</text>
<text x="23.3" y="35.5" font-size="10" text-anchor="start" fill="#1e1e1e" transform="rotate(-90 23.3 35.5)">(mm)</text>
<text x="267.3" y="193.25" font-size="9.95" text-anchor="start" fill="#1e1e1e" transform="rotate(-90 267.3 193.25)">Predicted delamination layer position</text>
<text x="501.3" y="177.25" font-size="9.95" text-anchor="start" fill="#1e1e1e" transform="rotate(-90 501.3 177.25)">Predicted crack position (mm)</text>
<text x="8.9" y="357.15" font-size="9.85" text-anchor="start" fill="#1e1e1e" transform="rotate(-90 8.9 357.15)">Density</text>
<text x="254" y="357.15" font-size="9.85" text-anchor="start" fill="#1e1e1e" transform="rotate(-90 254 357.15)">Density</text>
<text x="488.9" y="357.15" font-size="9.85" text-anchor="start" fill="#1e1e1e" transform="rotate(-90 488.9 357.15)">Density</text>
<text x="114.89" y="227.65" font-size="12" fill="#1e1e1e"><tspan font-size="13" dy="0.55">(</tspan><tspan dx="0.35" dy="-0.55">a</tspan><tspan font-size="13" dx="0.35" dy="0.55">)</tspan></text>
<text x="345" y="227.65" font-size="12" fill="#1e1e1e"><tspan font-size="13" dy="0.55">(</tspan><tspan dx="0.35" dy="-0.55">b</tspan><tspan font-size="13" dx="0.35" dy="0.55">)</tspan></text>
<text x="594.5" y="227.7" font-size="12" fill="#1e1e1e"><tspan font-size="13" dy="0.55">(</tspan><tspan dx="0.35" dy="-0.55">c</tspan><tspan font-size="13" dx="0.35" dy="0.55">)</tspan></text>
<text x="108.3" y="464.7" font-size="12" fill="#1e1e1e"><tspan font-size="13" dy="0.55">(</tspan><tspan dx="0.35" dy="-0.55">d</tspan><tspan font-size="13" dx="0.35" dy="0.55">)</tspan></text>
<text x="357" y="462.8" font-size="12" fill="#1e1e1e"><tspan font-size="13" dy="0.55">(</tspan><tspan dx="0.35" dy="-0.55">e</tspan><tspan font-size="13" dx="0.35" dy="0.55">)</tspan></text>
<text x="598.19" y="464.65" font-size="12" fill="#1e1e1e"><tspan font-size="13" dy="0.55">(</tspan><tspan dx="0.35" dy="-0.55">f</tspan><tspan font-size="13" dx="0.35" dy="0.55">)</tspan></text>
</svg>
</body>
</html>
